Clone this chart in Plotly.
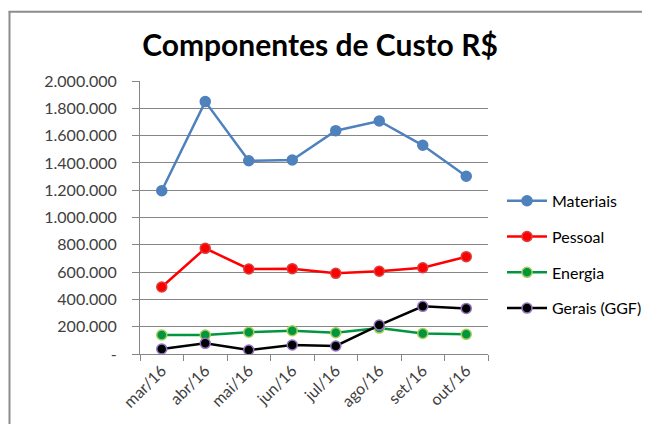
import plotly.graph_objects as go

months = ["mar/16", "abr/16", "mai/16", "jun/16", "jul/16", "ago/16", "set/16", "out/16"]
materiais = [1196000, 1849000, 1416000, 1421000, 1636000, 1707000, 1529000, 1302000]
pessoal = [491000, 774000, 623000, 625000, 591000, 606000, 632000, 713000]
energia = [139000, 139000, 159000, 171000, 156000, 190000, 151000, 144000]
gerais = [37000, 78000, 29000, 66000, 59000, 212000, 349000, 334000]

series_names = ["Materiais", "Pessoal", "Energia", "Gerais (GGF)"]
y_tickvals = [0, 200000, 400000, 600000, 800000, 1000000, 1200000, 1400000, 1600000, 1800000, 2000000]
y_ticktext = ["-", "200.000", "400.000", "600.000", "800.000", "1.000.000", "1.200.000",
              "1.400.000", "1.600.000", "1.800.000", "2.000.000"]

styles = [
    dict(line="#4F81BD", fill="#4F81BD", border="#4F81BD"),
    dict(line="#FF0000", fill="#FF0000", border="#D9403D"),
    dict(line="#00963F", fill="#00963F", border="#A9CD5A"),
    dict(line="#000000", fill="#000000", border="#9673C2"),
]

fig = go.Figure()
for name, vals, st in zip(series_names, [materiais, pessoal, energia, gerais], styles):
    fig.add_trace(go.Scatter(
        x=months, y=vals, name=name, mode="lines+markers", legendgroup=name,
        line=dict(color=st["line"], width=2.5),
        marker=dict(color=st["fill"], size=10, line=dict(color=st["border"], width=1.5)),
    ))

# page body has an 8px offset; target positions are in screen pixels
OFF = 8
W, H = 650 - 2 * OFF, 432 - 2 * OFF
L, T = 140 - OFF, 81 - OFF
R = W - (488 - OFF)
B = H - (354.5 - OFF)
pw, ph = W - L - R, H - T - B

def px_x(p):
    return (p - OFF - L) / pw

def px_y(p):
    return (H - B - (p - OFF)) / ph

fig.update_layout(
    width=W, height=H,
    margin=dict(l=L, r=R, t=T, b=B, pad=0, autoexpand=False),
    paper_bgcolor="white", plot_bgcolor="white",
    separators=",.",
    font=dict(family="Lato, Carlito, sans-serif", size=16, color="#404040"),
    title=dict(text="<b>Componentes de Custo R$</b>", x=(320 - OFF) / W, xanchor="center",
               y=1 - (45 - OFF) / H, yanchor="middle",
               font=dict(family="Lato, sans-serif", size=30, color="#000000")),
    showlegend=True,
    legend=dict(x=px_x(502), xanchor="left", y=px_y(184), yanchor="top",
                traceorder="grouped", tracegroupgap=12, itemwidth=40,
                font=dict(size=16, color="#000000"), bgcolor="rgba(0,0,0,0)"),
    xaxis=dict(
        showgrid=False, showline=True, linecolor="#868686", linewidth=1,
        ticks="outside", tickson="boundaries", ticklen=6, tickcolor="#868686",
        tickangle=-45, tickfont=dict(size=16, color="#404040"),
        range=[-0.5, len(months) - 0.5],
    ),
    yaxis=dict(
        range=[0, 2000000], tickvals=y_tickvals, ticktext=y_ticktext,
        showgrid=True, gridcolor="#868686", gridwidth=1,
        showline=True, linecolor="#868686", linewidth=1,
        ticks="outside", ticklen=7, tickcolor="#868686",
        ticklabelstandoff=12, tickfont=dict(size=16, color="#404040"),
        zeroline=False,
    ),
    shapes=[
        dict(type="line", xref="paper", yref="paper",
             x0=px_x(9.5), x1=px_x(9.5), y0=px_y(440), y1=px_y(11.5),
             line=dict(color="#8C8C8C", width=2)),
        dict(type="line", xref="paper", yref="paper",
             x0=px_x(8.5), x1=px_x(670), y0=px_y(11.5), y1=px_y(11.5),
             line=dict(color="#8C8C8C", width=2)),
    ],
)

fig.write_html("out.html")
